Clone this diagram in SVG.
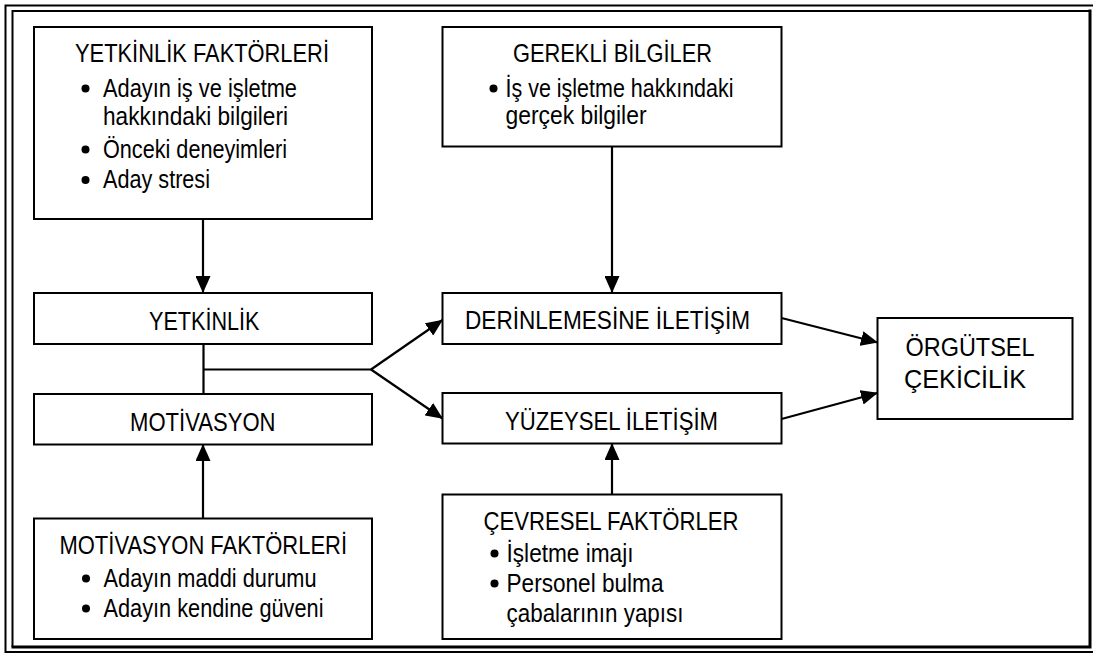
<svg xmlns="http://www.w3.org/2000/svg" width="1093" height="653" viewBox="0 0 1093 653">
  <style>
    .box { fill: #ffffff; stroke: #000000; stroke-width: 2; }
    .frame { fill: none; stroke: #000000; }
    .link { fill: none; stroke: #000000; stroke-width: 2.2; }
    text { font-family: "Liberation Sans", Arial, sans-serif; font-size: 25.5px; fill: #000000; }
    .c { text-anchor: middle; }
    .dot { fill: #000000; }
  </style>
  <defs>
    <marker id="arrow" markerUnits="userSpaceOnUse" markerWidth="18" markerHeight="15" refX="16.5" refY="7.5" orient="auto">
      <path d="M0,0 L17,7.5 L0,15 Z" fill="#000000"/>
    </marker>
  </defs>

  <rect width="1093" height="653" fill="#ffffff"/>

  <!-- double page border -->
  <g id="border">
    <path class="frame" stroke-width="2" d="M1093,5.5 H5.5 V652 H1093"/>
    <path class="frame" stroke-width="2" d="M12.5,647 V11 H1090"/>
    <path class="frame" stroke-width="3" d="M1090,9.5 V647 H11.5"/>
  </g>

  <!-- connectors -->
  <g id="connectors">
    <line class="link" x1="203" y1="219" x2="203" y2="292.5" marker-end="url(#arrow)"/>
    <line class="link" x1="612" y1="146.5" x2="612" y2="292.5" marker-end="url(#arrow)"/>
    <line class="link" x1="203" y1="518" x2="203" y2="444.5" marker-end="url(#arrow)"/>
    <line class="link" x1="612" y1="494" x2="612" y2="443.5" marker-end="url(#arrow)"/>
    <line class="link" x1="203.5" y1="344" x2="203.5" y2="394"/>
    <line class="link" x1="203.5" y1="369.5" x2="371" y2="369.5"/>
    <line class="link" x1="371" y1="369.5" x2="442.5" y2="320" marker-end="url(#arrow)"/>
    <line class="link" x1="371" y1="369.5" x2="442.5" y2="418.5" marker-end="url(#arrow)"/>
    <line class="link" x1="781.5" y1="318" x2="877.5" y2="342.5" marker-end="url(#arrow)"/>
    <line class="link" x1="781.5" y1="419" x2="877.5" y2="393" marker-end="url(#arrow)"/>
  </g>

  <!-- condensed lettering: each line is fitted to its set width -->
  <g id="yetkinlik-faktorleri">
    <rect class="box" x="34" y="27" width="338" height="192"/>
    <text x="75" y="62" textLength="254" lengthAdjust="spacingAndGlyphs">YETKİNLİK FAKTÖRLERİ</text>
    <circle class="dot" cx="85.5" cy="88.5" r="4"/>
    <text x="103" y="96.5" textLength="194" lengthAdjust="spacingAndGlyphs">Adayın iş ve işletme</text>
    <text x="103" y="125" textLength="185" lengthAdjust="spacingAndGlyphs">hakkındaki bilgileri</text>
    <circle class="dot" cx="85.5" cy="149.5" r="4"/>
    <text x="103" y="157.5" textLength="184" lengthAdjust="spacingAndGlyphs">Önceki deneyimleri</text>
    <circle class="dot" cx="85.5" cy="180" r="4"/>
    <text x="103" y="188" textLength="107" lengthAdjust="spacingAndGlyphs">Aday stresi</text>
  </g>

  <g id="gerekli-bilgiler">
    <rect class="box" x="442.5" y="27" width="339" height="119.5"/>
    <text x="513" y="62" textLength="199" lengthAdjust="spacingAndGlyphs">GEREKLİ BİLGİLER</text>
    <circle class="dot" cx="493.5" cy="88.5" r="4"/>
    <text x="505.5" y="96.5" textLength="228" lengthAdjust="spacingAndGlyphs">İş ve işletme hakkındaki</text>
    <text x="505.5" y="124" textLength="141" lengthAdjust="spacingAndGlyphs">gerçek bilgiler</text>
  </g>

  <g id="yetkinlik">
    <rect class="box" x="34" y="293" width="338" height="51"/>
    <text x="149" y="330" textLength="110.5" lengthAdjust="spacingAndGlyphs">YETKİNLİK</text>
  </g>

  <g id="motivasyon">
    <rect class="box" x="34" y="394" width="338" height="50.5"/>
    <text x="130" y="430.5" textLength="145.5" lengthAdjust="spacingAndGlyphs">MOTİVASYON</text>
  </g>

  <g id="derinlemesine-iletisim">
    <rect class="box" x="442.5" y="293" width="339" height="51"/>
    <text x="465" y="329" textLength="285" lengthAdjust="spacingAndGlyphs">DERİNLEMESİNE İLETİŞİM</text>
  </g>

  <g id="yuzeysel-iletisim">
    <rect class="box" x="442.5" y="393" width="339" height="50.5"/>
    <text x="505" y="429.5" textLength="213" lengthAdjust="spacingAndGlyphs">YÜZEYSEL İLETİŞİM</text>
  </g>

  <g id="orgutsel-cekicilik">
    <rect class="box" x="877.5" y="318" width="195" height="101"/>
    <text x="905.5" y="356" textLength="129" lengthAdjust="spacingAndGlyphs">ÖRGÜTSEL</text>
    <text x="904" y="387.5" textLength="122" lengthAdjust="spacingAndGlyphs">ÇEKİCİLİK</text>
  </g>

  <g id="motivasyon-faktorleri">
    <rect class="box" x="34" y="518.5" width="338" height="120.5"/>
    <text x="59.5" y="553.5" textLength="287.5" lengthAdjust="spacingAndGlyphs">MOTİVASYON FAKTÖRLERİ</text>
    <circle class="dot" cx="86" cy="578.5" r="4"/>
    <text x="103.5" y="586.5" textLength="213" lengthAdjust="spacingAndGlyphs">Adayın maddi durumu</text>
    <circle class="dot" cx="86" cy="608.5" r="4"/>
    <text x="103.5" y="616.5" textLength="220" lengthAdjust="spacingAndGlyphs">Adayın kendine güveni</text>
  </g>

  <g id="cevresel-faktorler">
    <rect class="box" x="442.5" y="494.5" width="339" height="144.5"/>
    <text x="483.5" y="530" textLength="255" lengthAdjust="spacingAndGlyphs">ÇEVRESEL FAKTÖRLER</text>
    <circle class="dot" cx="494.5" cy="553.5" r="4"/>
    <text x="506.5" y="561.5" textLength="127" lengthAdjust="spacingAndGlyphs">İşletme imajı</text>
    <circle class="dot" cx="494.5" cy="583.5" r="4"/>
    <text x="506.5" y="591.5" textLength="157" lengthAdjust="spacingAndGlyphs">Personel bulma</text>
    <text x="506.5" y="621.5" textLength="177" lengthAdjust="spacingAndGlyphs">çabalarının yapısı</text>
  </g>
</svg>
